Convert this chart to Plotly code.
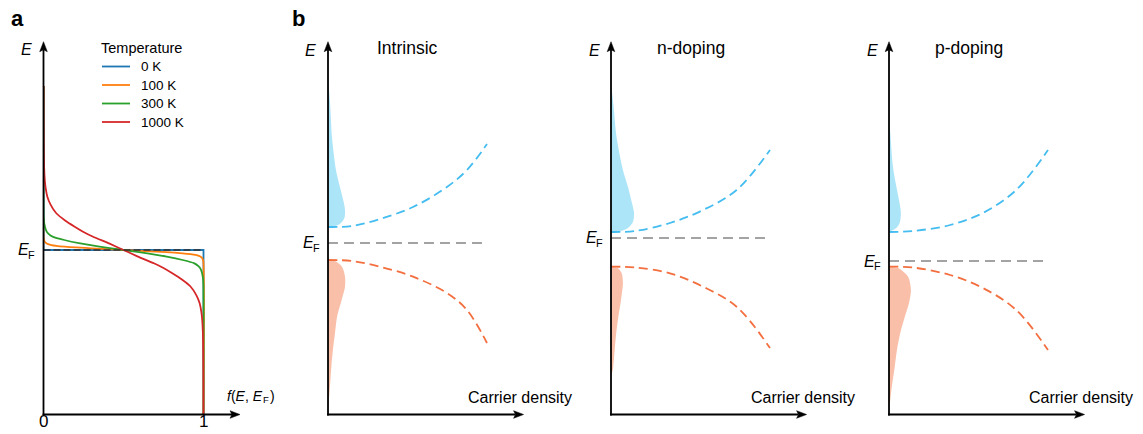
import plotly.graph_objects as go

W, H = 1143, 434
FONT = "Liberation Sans, Arial, sans-serif"

# ---------------- Panel a: occupation f(E, E_F) ----------------
temperatures = ["0 K", "100 K", "300 K", "1000 K"]
temp_colors = ["#1f77b4", "#ff7f0e", "#2ca02c", "#d62728"]

E_0K = [1.0, 0.0, 0.0, -1.0]
f_0K = [0.0, 0.0, 1.0, 1.0]

E_100K = [1.0, 0.07, 0.05, 0.04, 0.03, 0.02, 0.01, 0.0, -0.01, -0.02, -0.03, -0.04, -0.05, -0.07, -1.0]
f_100K = [0.0, 0.001, 0.008, 0.02, 0.05, 0.13, 0.30, 0.50, 0.70, 0.87, 0.95, 0.98, 0.992, 0.999, 1.0]

E_300K = [1.0, 0.20, 0.16, 0.12, 0.10, 0.08, 0.061, 0.04, 0.02, 0.0,
          -0.02, -0.04, -0.061, -0.08, -0.10, -0.12, -0.16, -0.20, -1.0]
f_300K = [0.0, 0.001, 0.005, 0.016, 0.03, 0.06, 0.13, 0.23, 0.35, 0.50,
          0.65, 0.77, 0.87, 0.94, 0.97, 0.984, 0.995, 0.999, 1.0]

E_1000K = [1.0, 0.80, 0.60, 0.50, 0.427, 0.38, 0.325, 0.275, 0.224, 0.18, 0.142, 0.11, 0.081, 0.04, 0.0,
           -0.04, -0.081, -0.11, -0.142, -0.18, -0.224, -0.275, -0.325, -0.38, -0.427, -0.50, -0.60, -0.80, -1.0]
f_1000K = [0.0, 0.0005, 0.002, 0.004, 0.008, 0.013, 0.024, 0.045, 0.08, 0.135, 0.195, 0.25, 0.31, 0.41, 0.50,
           0.59, 0.69, 0.75, 0.805, 0.865, 0.92, 0.955, 0.976, 0.987, 0.992, 0.996, 0.998, 0.9995, 1.0]

E_F_a = 0.0
f_ticks = [0, 1]

# ---------------- Panel b: schematic bands and carrier distributions ----------------
panel_titles = ["Intrinsic", "n-doping", "p-doping"]

# Fermi level of each case
E_F_b = [0.0, 0.05, -0.18]
EF_line_x = [0.0, 1.0]

# Conduction / valence band dashed curves (carrier density x, energy E)
intr_cb_x = [0.0, 0.15, 0.327, 0.535, 0.748, 0.874, 1.0]
intr_cb_E = [0.16, 0.17, 0.24, 0.36, 0.56, 0.73, 0.99]
intr_vb_x = [0.0, 0.15, 0.327, 0.535, 0.748, 0.874, 1.0]
intr_vb_E = [-0.17, -0.18, -0.237, -0.337, -0.50, -0.67, -1.00]

n_cb_x = [0.0, 0.15, 0.371, 0.579, 0.79, 1.0]
n_cb_E = [0.11, 0.12, 0.20, 0.33, 0.53, 0.93]
n_vb_x = [0.0, 0.15, 0.371, 0.579, 0.79, 1.0]
n_vb_E = [-0.237, -0.245, -0.303, -0.437, -0.637, -1.05]

p_cb_x = [0.0, 0.15, 0.384, 0.59, 0.80, 1.0]
p_cb_E = [0.11, 0.12, 0.18, 0.30, 0.53, 0.93]
p_vb_x = [0.0, 0.15, 0.384, 0.59, 0.80, 1.0]
p_vb_E = [-0.237, -0.245, -0.32, -0.45, -0.67, -1.07]

# Electron (blue) and hole (red) distributions: width along carrier density axis
intr_e_E = [0.16, 0.165, 0.18, 0.21, 0.26, 0.33, 0.40, 0.56, 0.73, 1.06, 1.40, 1.65]
intr_e_w = [0.0, 0.03, 0.063, 0.088, 0.105, 0.107, 0.10, 0.075, 0.05, 0.025, 0.013, 0.0]
intr_h_E = [-0.17, -0.18, -0.237, -0.337, -0.437, -0.57, -0.737, -0.90, -1.07, -1.237, -1.40, -1.57, -1.67]
intr_h_w = [0.0, 0.044, 0.088, 0.107, 0.107, 0.086, 0.057, 0.044, 0.031, 0.021, 0.014, 0.006, 0.0]

n_e_E = [0.10, 0.12, 0.15, 0.21, 0.30, 0.40, 0.56, 0.73, 1.06, 1.40, 1.60]
n_e_w = [0.0, 0.063, 0.107, 0.138, 0.145, 0.132, 0.107, 0.075, 0.035, 0.014, 0.0]
n_h_E = [-0.237, -0.25, -0.30, -0.40, -0.57, -0.74, -0.90, -1.07, -1.24, -1.35]
n_h_w = [0.0, 0.042, 0.067, 0.075, 0.063, 0.046, 0.033, 0.023, 0.014, 0.0]

p_e_E = [0.11, 0.15, 0.20, 0.30, 0.43, 0.60, 0.76, 1.10, 1.26]
p_e_w = [0.0, 0.046, 0.067, 0.075, 0.063, 0.042, 0.025, 0.008, 0.0]
p_h_E = [-0.237, -0.25, -0.337, -0.47, -0.60, -0.74, -0.90, -1.07, -1.24, -1.40, -1.57, -1.67]
p_h_w = [0.0, 0.057, 0.12, 0.138, 0.126, 0.099, 0.071, 0.05, 0.036, 0.021, 0.008, 0.0]

# ---------------- styles ----------------
CB_LINE = "#45bdf0"
CB_FILL = "#ade5f8"
VB_LINE = "#f36f3f"
VB_FILL = "#f9bfa9"
EF_GREY = "#a3a3a3"

# ---------------- layout geometry (pixels) ----------------
AX_TOP, AX_BOT = 41.7, 414.5


def xdom(p0, p1):
    return [p0 / W, p1 / W]


def ydom(top, bot):
    return [1 - bot / H, 1 - top / H]


def px(x):
    return x / W


def py(y):
    return 1 - y / H


fig = go.Figure()

# Panel a traces
curves_a = [(E_0K, f_0K), (E_100K, f_100K), (E_300K, f_300K), (E_1000K, f_1000K)]
for (E, f), name, col in zip(curves_a, temperatures, temp_colors):
    fig.add_trace(go.Scatter(
        x=f, y=E, mode="lines", name=name,
        line=dict(color=col, width=1.8, shape="linear" if name == "0 K" else "spline", smoothing=0.5),
        xaxis="x", yaxis="y", showlegend=False))
fig.add_trace(go.Scatter(
    x=f_ticks, y=[E_F_a, E_F_a], mode="lines",
    line=dict(color="#333333", width=1.6, dash="7px,3px"),
    xaxis="x", yaxis="y", showlegend=False))

# Panel b traces
cases = [
    (intr_cb_x, intr_cb_E, intr_vb_x, intr_vb_E, intr_e_E, intr_e_w, intr_h_E, intr_h_w),
    (n_cb_x, n_cb_E, n_vb_x, n_vb_E, n_e_E, n_e_w, n_h_E, n_h_w),
    (p_cb_x, p_cb_E, p_vb_x, p_vb_E, p_e_E, p_e_w, p_h_E, p_h_w),
]
for i, (cbx, cbE, vbx, vbE, eE, ew, hE, hw) in enumerate(cases):
    xa, ya = "x%d" % (i + 2), "y%d" % (i + 2)
    fig.add_trace(go.Scatter(x=ew, y=eE, mode="lines", fill="tozerox", fillcolor=CB_FILL,
                             line=dict(width=0, shape="spline", smoothing=0.8, color=CB_FILL),
                             xaxis=xa, yaxis=ya, showlegend=False))
    fig.add_trace(go.Scatter(x=hw, y=hE, mode="lines", fill="tozerox", fillcolor=VB_FILL,
                             line=dict(width=0, shape="spline", smoothing=0.8, color=VB_FILL),
                             xaxis=xa, yaxis=ya, showlegend=False))
    fig.add_trace(go.Scatter(x=cbx, y=cbE, mode="lines",
                             line=dict(color=CB_LINE, width=1.8, dash="9px,5px", shape="spline"),
                             xaxis=xa, yaxis=ya, showlegend=False))
    fig.add_trace(go.Scatter(x=vbx, y=vbE, mode="lines",
                             line=dict(color=VB_LINE, width=1.8, dash="9px,5px", shape="spline"),
                             xaxis=xa, yaxis=ya, showlegend=False))
    fig.add_trace(go.Scatter(x=EF_line_x, y=[E_F_b[i]] * 2, mode="lines",
                             line=dict(color=EF_GREY, width=1.8, dash="10px,6px"),
                             xaxis=xa, yaxis=ya, showlegend=False))

# Axes
A_EF_PX, A_SCALE = 250.0, 164.0
A_X0, A_XS = 43.5, 160.0
a_yrange = [(A_EF_PX - AX_BOT) / A_SCALE, (A_EF_PX - AX_TOP) / A_SCALE]
a_xrange = [0, 200 / A_XS]

B_REF_PX, B_SCALE, B_XS = 243.0, 100.0, 159.0
b_yrange = [(B_REF_PX - AX_BOT) / B_SCALE, (B_REF_PX - AX_TOP) / B_SCALE]
b_xrange = [0, 200 / B_XS]
b_origins = [328.0, 611.0, 889.0]

hidden = dict(visible=False, showgrid=False, zeroline=False)
layout_axes = {
    "xaxis": dict(domain=xdom(A_X0, A_X0 + 200), range=a_xrange, anchor="y", **hidden),
    "yaxis": dict(domain=ydom(AX_TOP, AX_BOT), range=a_yrange, anchor="x", **hidden),
}
for i, ox in enumerate(b_origins):
    layout_axes["xaxis%d" % (i + 2)] = dict(domain=xdom(ox, ox + 200), range=b_xrange,
                                            anchor="y%d" % (i + 2), **hidden)
    layout_axes["yaxis%d" % (i + 2)] = dict(domain=ydom(AX_TOP, AX_BOT), range=b_yrange,
                                            anchor="x%d" % (i + 2), **hidden)

ann = []
shapes = []

HEAD_L, HEAD_HW, HEAD_NOTCH = 10.0, 3.8, 2.0


def axis_arrows(ox, right_tip):
    """Black axis lines (vertical and horizontal) with stealth arrowheads, drawn in paper space."""
    oy = AX_BOT
    shapes.append(dict(type="line", xref="paper", yref="paper", x0=px(ox), y0=py(oy + 0.9),
                       x1=px(ox), y1=py(AX_TOP + HEAD_L - 2), line=dict(color="black", width=1.8)))
    shapes.append(dict(type="line", xref="paper", yref="paper", x0=px(ox - 0.9), y0=py(oy),
                       x1=px(right_tip - HEAD_L + 2), y1=py(oy), line=dict(color="black", width=1.8)))
    up = "M {},{} L {},{} L {},{} L {},{} Z".format(
        px(ox), py(AX_TOP), px(ox - HEAD_HW), py(AX_TOP + HEAD_L),
        px(ox), py(AX_TOP + HEAD_L - HEAD_NOTCH), px(ox + HEAD_HW), py(AX_TOP + HEAD_L))
    rt = "M {},{} L {},{} L {},{} L {},{} Z".format(
        px(right_tip), py(oy), px(right_tip - HEAD_L), py(oy - HEAD_HW),
        px(right_tip - HEAD_L + HEAD_NOTCH), py(oy), px(right_tip - HEAD_L), py(oy + HEAD_HW))
    for p in (up, rt):
        shapes.append(dict(type="path", xref="paper", yref="paper", path=p,
                           fillcolor="black", line=dict(color="black", width=0.5)))


def label(x, y, text, size, xanchor="center", yanchor="middle"):
    ann.append(dict(xref="paper", yref="paper", x=px(x), y=py(y), text=text, showarrow=False,
                    xanchor=xanchor, yanchor=yanchor, borderpad=0,
                    font=dict(family=FONT, size=size, color="black")))


def ef_label(e_right, y_mid, size=16):
    """Italic E with a small subscript F, built from two plain labels."""
    label(e_right, y_mid, "<i>E</i>", size, xanchor="right")
    label(e_right - 3.5, y_mid + 4.5, "F", size * 0.68, xanchor="left")


# panel a axes & labels
axis_arrows(A_X0, 240)
label(26, 49, "<i>E</i>", 16)
ef_label(30, A_EF_PX)
# f(E, E_F)
label(264, 396, "<i>f</i>(<i>E</i>, <i>E</i>", 14, xanchor="right")
label(261.5, 399.5, "F", 9.5, xanchor="left")
label(268.5, 396, ")", 14, xanchor="left")
for t in f_ticks:
    label(A_X0 + t * A_XS, 421, str(t), 17)
label(17, 19, "<b>a</b>", 22)
label(299, 19, "<b>b</b>", 22)

# legend (manual, to match compact row spacing)
label(141, 48, "Temperature", 14.5)
LEG_ROWS = [66.5, 85, 103.5, 122]
for name, col, ry in zip(temperatures, temp_colors, LEG_ROWS):
    shapes.append(dict(type="line", xref="paper", yref="paper", x0=px(102), x1=px(130),
                       y0=py(ry), y1=py(ry), line=dict(color=col, width=1.8)))
    label(140, ry, name, 13.5, xanchor="left")

# panel b axes & labels
for i, ox in enumerate(b_origins):
    axis_arrows(ox, ox + 1.23 * B_XS)
    label(ox - 17, 50, "<i>E</i>", 16)
    label(ox + 0.5 * B_XS, 48, panel_titles[i], 17.5)
    ef_px = B_REF_PX - E_F_b[i] * B_SCALE
    ef_label(ox - 13, ef_px)
    label(ox + 1.21 * B_XS, 397, "Carrier density", 16)

fig.update_layout(
    width=W, height=H, margin=dict(l=0, r=0, t=0, b=0),
    paper_bgcolor="white", plot_bgcolor="white",
    font=dict(family=FONT, color="black"),
    annotations=ann, shapes=shapes, showlegend=False,
    **layout_axes,
)

fig.write_html("out.html")
